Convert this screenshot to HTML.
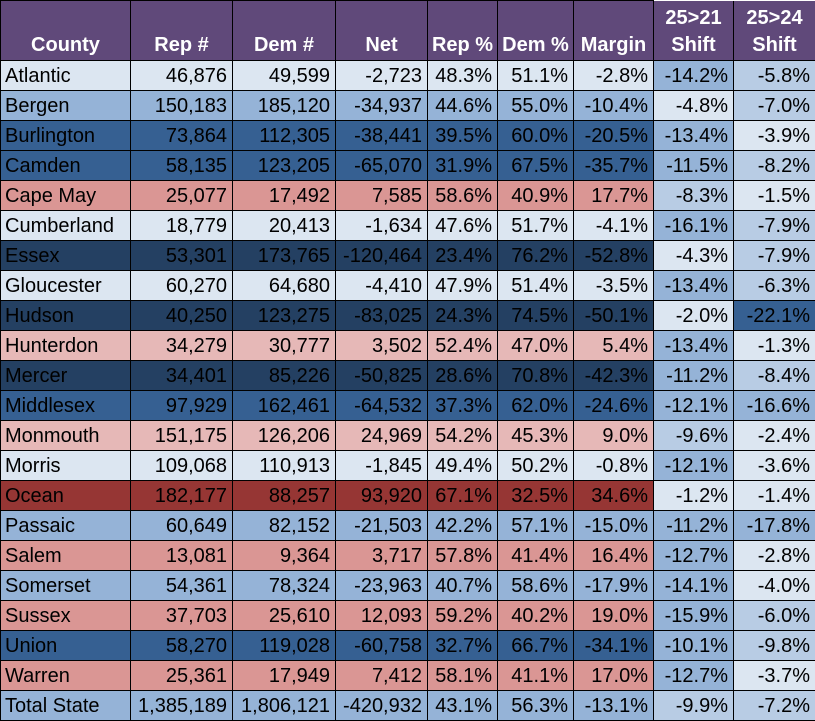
<!DOCTYPE html>
<html><head><meta charset="utf-8">
<style>
html,body{margin:0;padding:0;background:#fff;}
body{width:815px;height:721px;overflow:hidden;position:relative;}
.g{display:grid;grid-template-columns:129px 101px 102px 91px 69px 75px 79px 79px 81px;grid-template-rows:59px repeat(22,29px);gap:1px;padding:1px 0 1px 1px;background:#000;width:814px;height:719px;font-family:"Liberation Sans",Arial,sans-serif;font-size:20px;color:#000;}
.g>div{line-height:27px;padding-top:2px;box-sizing:border-box;text-align:right;padding-right:5px;white-space:nowrap;overflow:hidden;}
.g>div.n{text-align:left;padding-left:4px;padding-right:0;}
.g>div.h{background:#60497a;color:#fff;font-weight:bold;text-align:center;padding:0 0 1px 0;line-height:27px;display:flex;flex-direction:column;justify-content:flex-end;align-items:center;}
.l{background:#dce6f1}.m{background:#95b3d7}.s{background:#b8cce4}.d{background:#366092}.x{background:#244062}
.p{background:#da9694}.q{background:#e6b8b7}.r{background:#963634}
.top{position:absolute;left:654px;top:0;width:161px;height:1px;background:#fff;}
</style></head><body>
<div class="g">
<div class="h">County</div><div class="h">Rep #</div><div class="h">Dem #</div><div class="h">Net</div><div class="h">Rep %</div><div class="h">Dem %</div><div class="h">Margin</div><div class="h"><span>25&gt;21</span><span>Shift</span></div><div class="h"><span>25&gt;24</span><span>Shift</span></div>

<div class="n l">Atlantic</div><div class="l">46,876</div><div class="l">49,599</div><div class="l">-2,723</div><div class="l">48.3%</div><div class="l">51.1%</div><div class="l">-2.8%</div><div class="m">-14.2%</div><div class="s">-5.8%</div>
<div class="n m">Bergen</div><div class="m">150,183</div><div class="m">185,120</div><div class="m">-34,937</div><div class="m">44.6%</div><div class="m">55.0%</div><div class="m">-10.4%</div><div class="l">-4.8%</div><div class="s">-7.0%</div>
<div class="n d">Burlington</div><div class="d">73,864</div><div class="d">112,305</div><div class="d">-38,441</div><div class="d">39.5%</div><div class="d">60.0%</div><div class="d">-20.5%</div><div class="m">-13.4%</div><div class="l">-3.9%</div>
<div class="n d">Camden</div><div class="d">58,135</div><div class="d">123,205</div><div class="d">-65,070</div><div class="d">31.9%</div><div class="d">67.5%</div><div class="d">-35.7%</div><div class="m">-11.5%</div><div class="s">-8.2%</div>
<div class="n p">Cape May</div><div class="p">25,077</div><div class="p">17,492</div><div class="p">7,585</div><div class="p">58.6%</div><div class="p">40.9%</div><div class="p">17.7%</div><div class="s">-8.3%</div><div class="l">-1.5%</div>
<div class="n l">Cumberland</div><div class="l">18,779</div><div class="l">20,413</div><div class="l">-1,634</div><div class="l">47.6%</div><div class="l">51.7%</div><div class="l">-4.1%</div><div class="m">-16.1%</div><div class="s">-7.9%</div>
<div class="n x">Essex</div><div class="x">53,301</div><div class="x">173,765</div><div class="x">-120,464</div><div class="x">23.4%</div><div class="x">76.2%</div><div class="x">-52.8%</div><div class="l">-4.3%</div><div class="s">-7.9%</div>
<div class="n l">Gloucester</div><div class="l">60,270</div><div class="l">64,680</div><div class="l">-4,410</div><div class="l">47.9%</div><div class="l">51.4%</div><div class="l">-3.5%</div><div class="m">-13.4%</div><div class="s">-6.3%</div>
<div class="n x">Hudson</div><div class="x">40,250</div><div class="x">123,275</div><div class="x">-83,025</div><div class="x">24.3%</div><div class="x">74.5%</div><div class="x">-50.1%</div><div class="l">-2.0%</div><div class="d">-22.1%</div>
<div class="n q">Hunterdon</div><div class="q">34,279</div><div class="q">30,777</div><div class="q">3,502</div><div class="q">52.4%</div><div class="q">47.0%</div><div class="q">5.4%</div><div class="m">-13.4%</div><div class="l">-1.3%</div>
<div class="n x">Mercer</div><div class="x">34,401</div><div class="x">85,226</div><div class="x">-50,825</div><div class="x">28.6%</div><div class="x">70.8%</div><div class="x">-42.3%</div><div class="m">-11.2%</div><div class="s">-8.4%</div>
<div class="n d">Middlesex</div><div class="d">97,929</div><div class="d">162,461</div><div class="d">-64,532</div><div class="d">37.3%</div><div class="d">62.0%</div><div class="d">-24.6%</div><div class="m">-12.1%</div><div class="m">-16.6%</div>
<div class="n q">Monmouth</div><div class="q">151,175</div><div class="q">126,206</div><div class="q">24,969</div><div class="q">54.2%</div><div class="q">45.3%</div><div class="q">9.0%</div><div class="s">-9.6%</div><div class="l">-2.4%</div>
<div class="n l">Morris</div><div class="l">109,068</div><div class="l">110,913</div><div class="l">-1,845</div><div class="l">49.4%</div><div class="l">50.2%</div><div class="l">-0.8%</div><div class="m">-12.1%</div><div class="l">-3.6%</div>
<div class="n r">Ocean</div><div class="r">182,177</div><div class="r">88,257</div><div class="r">93,920</div><div class="r">67.1%</div><div class="r">32.5%</div><div class="r">34.6%</div><div class="l">-1.2%</div><div class="l">-1.4%</div>
<div class="n m">Passaic</div><div class="m">60,649</div><div class="m">82,152</div><div class="m">-21,503</div><div class="m">42.2%</div><div class="m">57.1%</div><div class="m">-15.0%</div><div class="m">-11.2%</div><div class="m">-17.8%</div>
<div class="n p">Salem</div><div class="p">13,081</div><div class="p">9,364</div><div class="p">3,717</div><div class="p">57.8%</div><div class="p">41.4%</div><div class="p">16.4%</div><div class="m">-12.7%</div><div class="l">-2.8%</div>
<div class="n m">Somerset</div><div class="m">54,361</div><div class="m">78,324</div><div class="m">-23,963</div><div class="m">40.7%</div><div class="m">58.6%</div><div class="m">-17.9%</div><div class="m">-14.1%</div><div class="l">-4.0%</div>
<div class="n p">Sussex</div><div class="p">37,703</div><div class="p">25,610</div><div class="p">12,093</div><div class="p">59.2%</div><div class="p">40.2%</div><div class="p">19.0%</div><div class="m">-15.9%</div><div class="s">-6.0%</div>
<div class="n d">Union</div><div class="d">58,270</div><div class="d">119,028</div><div class="d">-60,758</div><div class="d">32.7%</div><div class="d">66.7%</div><div class="d">-34.1%</div><div class="m">-10.1%</div><div class="s">-9.8%</div>
<div class="n p">Warren</div><div class="p">25,361</div><div class="p">17,949</div><div class="p">7,412</div><div class="p">58.1%</div><div class="p">41.1%</div><div class="p">17.0%</div><div class="m">-12.7%</div><div class="l">-3.7%</div>
<div class="n m">Total State</div><div class="m">1,385,189</div><div class="m">1,806,121</div><div class="m">-420,932</div><div class="m">43.1%</div><div class="m">56.3%</div><div class="m">-13.1%</div><div class="s">-9.9%</div><div class="s">-7.2%</div>
</div>
<div class="top"></div>
</body></html>
